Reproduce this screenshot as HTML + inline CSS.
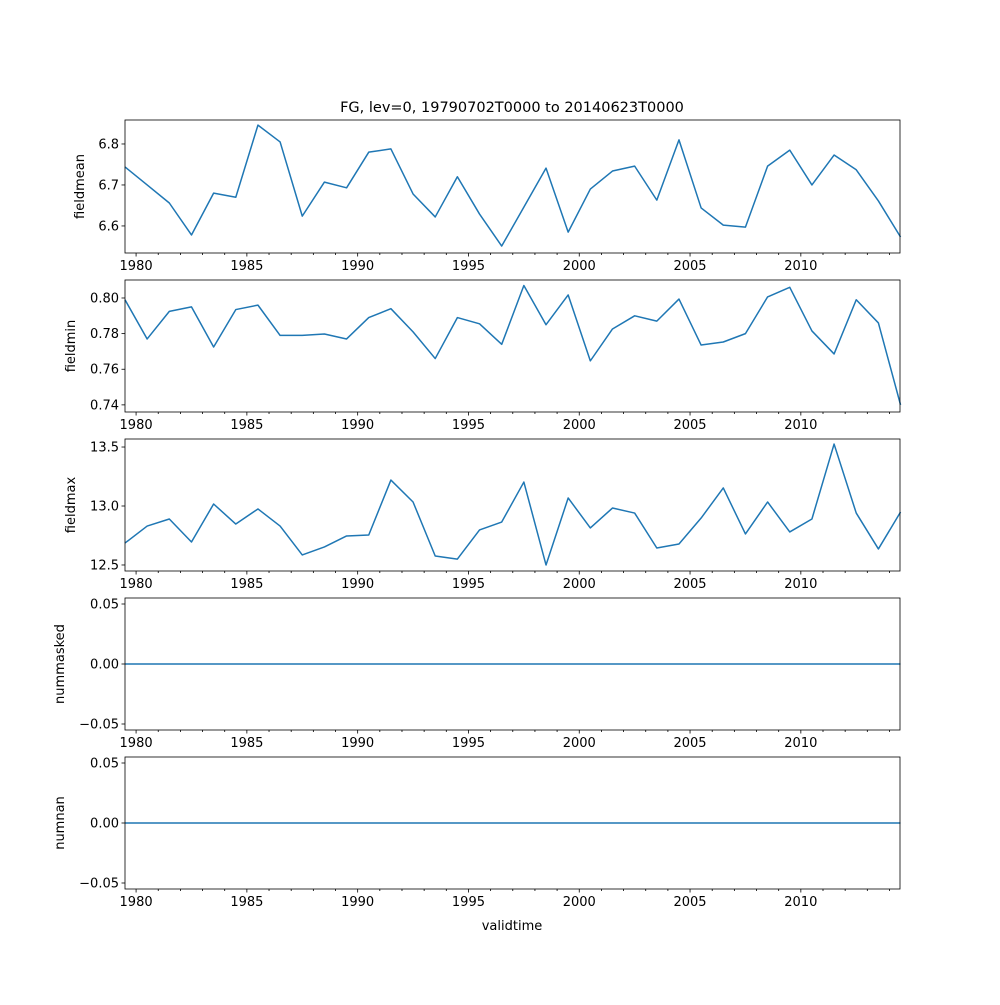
<!DOCTYPE html>
<html><head><meta charset="utf-8"><style>
body{margin:0;background:#fff}
svg{font-family:"DejaVu Sans","Liberation Sans",sans-serif}
</style></head><body>
<svg id="fig" width="1000" height="1000" viewBox="0 0 1000 1000">
<rect width="1000" height="1000" fill="#fff"/>
<text x="512" y="112" text-anchor="middle" font-size="14.5">FG, lev=0, 19790702T0000 to 20140623T0000</text>
<text x="512" y="930" text-anchor="middle" font-size="13">validtime</text>
</svg>
<script>
const startYear = 1979.5;
const years = Array.from({length:36},(_,i)=>startYear+i);
const fieldmean = [6.744,6.70,6.656,6.578,6.68,6.67,6.846,6.805,6.624,6.707,6.693,6.78,6.788,6.678,6.622,6.72,6.629,6.551,6.646,6.741,6.585,6.69,6.734,6.746,6.663,6.81,6.644,6.602,6.597,6.746,6.785,6.70,6.773,6.737,6.661,6.573];
const fieldmin = [0.799,0.777,0.7925,0.795,0.7725,0.7935,0.796,0.779,0.779,0.7798,0.777,0.789,0.794,0.781,0.766,0.789,0.7855,0.774,0.807,0.785,0.8017,0.7647,0.7826,0.79,0.787,0.7994,0.7736,0.7753,0.78,0.8006,0.806,0.7815,0.7686,0.799,0.786,0.74];
const fieldmax = [12.686,12.83,12.89,12.695,13.017,12.847,12.975,12.83,12.585,12.653,12.746,12.754,13.22,13.034,12.576,12.55,12.797,12.864,13.203,12.5,13.068,12.814,12.983,12.94,12.644,12.678,12.898,13.153,12.763,13.034,12.78,12.89,13.525,12.94,12.636,12.949];
const nummasked = new Array(36).fill(0);
const numnan = new Array(36).fill(0);
const majorTicks = [1980,1985,1990,1995,2000,2005,2010];
const fmtNum=(v,d)=>v.toFixed(d).replace('-','\u2212');
const panels = [
 {name:'fieldmean',vals:fieldmean,top:120,bot:253,ymin:6.534,ymax:6.8585,ticks:[6.6,6.7,6.8],fmt:v=>fmtNum(v,1)},
 {name:'fieldmin',vals:fieldmin,top:280,bot:412,ymin:0.736,ymax:0.8101,ticks:[0.74,0.76,0.78,0.80],fmt:v=>fmtNum(v,2)},
 {name:'fieldmax',vals:fieldmax,top:439,bot:571,ymin:12.449,ymax:13.568,ticks:[12.5,13.0,13.5],fmt:v=>fmtNum(v,1)},
 {name:'nummasked',vals:nummasked,top:598,bot:730,ymin:-0.055,ymax:0.055,ticks:[-0.05,0,0.05],fmt:v=>fmtNum(v,2)},
 {name:'numnan',vals:numnan,top:757,bot:889,ymin:-0.055,ymax:0.055,ticks:[-0.05,0,0.05],fmt:v=>fmtNum(v,2)}
];
const L=125,R=900,x0=1979.5,x1=2014.475;
const NS='http://www.w3.org/2000/svg';
const svg=document.getElementById('fig');
function xs(t){return L+(t-x0)/(x1-x0)*(R-L);}
function mk(tag,attrs,parent){const e=document.createElementNS(NS,tag);for(const k in attrs)e.setAttribute(k,attrs[k]);(parent||svg).appendChild(e);return e;}
panels.forEach(p=>{
 const g=mk('g',{});
 
 
 const ys=v=>p.bot-(v-p.ymin)/(p.ymax-p.ymin)*(p.bot-p.top);
 const pts=p.vals.map((v,i)=>xs(years[i]).toFixed(2)+','+ys(v).toFixed(2)).join(' ');
 const line=mk('polyline',{points:pts,fill:'none',stroke:'#1f77b4','stroke-width':1.5,'stroke-linejoin':'round'},g);
 
 
 const fr=mk('rect',{x:L,y:p.top,width:R-L,height:p.bot-p.top,fill:'none',stroke:'#000','stroke-width':0.8},g);
 
 
 for(let y=1980;y<=2014;y++){
  const x=xs(y);const maj=majorTicks.includes(y);
  mk('line',{x1:x,x2:x,y1:p.bot,y2:p.bot+(maj?3.5:2),stroke:'#000','stroke-width':0.8},g);
  if(maj){const t=mk('text',{x:x,y:p.bot+17,'text-anchor':'middle','font-size':13},g);t.textContent=y;
   
   }
 }
 p.ticks.forEach(v=>{
  const y=ys(v);
  mk('line',{x1:L-3.5,x2:L,y1:y,y2:y,stroke:'#000','stroke-width':0.8},g);
  const t=mk('text',{x:L-6,y:y+4.5,'text-anchor':'end','font-size':13},g);t.textContent=p.fmt(v);
  
  
 });
 const cy=(p.top+p.bot)/2;
 const lx=p.name.startsWith('num')?64:(p.name==='fieldmean'?84:75);
 const yl=mk('text',{x:lx,y:cy,'text-anchor':'middle','font-size':13,transform:`rotate(-90 ${lx} ${cy})`},g);
 yl.textContent=p.name;
 
 
});
</script>
</body></html>
